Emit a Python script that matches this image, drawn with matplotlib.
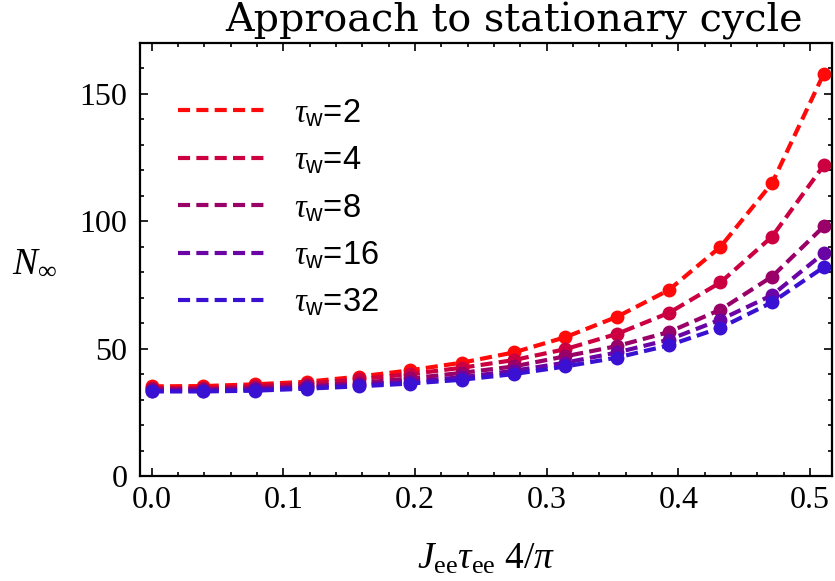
import numpy as np
import matplotlib
matplotlib.use("Agg")
import matplotlib.pyplot as plt
from matplotlib.lines import Line2D
from matplotlib.ticker import MultipleLocator

plt.rcParams['mathtext.fontset'] = 'custom'
plt.rcParams['mathtext.rm'] = 'Liberation Serif'
plt.rcParams['mathtext.it'] = 'Liberation Serif:italic'
plt.rcParams['mathtext.sf'] = 'Liberation Sans'
plt.rcParams['font.family'] = ['Liberation Serif', 'DejaVu Serif']

# x values: J_ee tau_ee 4/pi
x_vals = [0.0, 0.0393, 0.0785, 0.1178, 0.1571, 0.1963, 0.2356, 0.2749,
          0.3142, 0.3534, 0.3927, 0.4320, 0.4712, 0.5105]

tau_w = [2, 4, 8, 16, 32]
n_tau2 = [35.2, 35.3, 36.0, 37.0, 39.0, 41.5, 44.5, 48.5, 54.5, 62.5, 73.0, 90.0, 115.0, 158.0]
n_tau4 = [34.5, 34.5, 35.3, 36.2, 38.0, 40.0, 42.5, 45.5, 49.8, 55.8, 64.0, 76.0, 94.0, 122.0]
n_tau8 = [34.0, 34.0, 34.5, 35.3, 36.5, 38.3, 40.5, 43.0, 47.0, 51.0, 56.5, 65.3, 78.3, 98.0]
n_tau16 = [33.5, 33.5, 34.0, 34.8, 35.8, 37.0, 38.8, 41.3, 44.5, 48.5, 53.5, 61.4, 71.0, 87.5]
n_tau32 = [33.2, 33.2, 33.5, 34.3, 35.2, 36.3, 37.8, 40.0, 43.0, 46.5, 51.3, 58.2, 68.2, 82.0]
series = [n_tau2, n_tau4, n_tau8, n_tau16, n_tau32]
colors = ['#FF0A0A', '#CC0040', '#990068', '#6A04A4', '#3A10D2']

fig = plt.figure(figsize=(8.35, 5.81), dpi=100)
ax = fig.add_axes([140/835, 1-476/581, 692/835, 433/581])

lw = 3.0
dash = (2.9, 1.5)
for ys, c in zip(series, colors):
    ax.plot(x_vals, ys, color=c, lw=lw, dashes=dash, dash_capstyle='butt')
    ax.plot(x_vals, ys, 'o', color=c, ms=10, mec='none')

ax.set_xlim(-0.0089, 0.5167)
ax.set_ylim(0, 170)
ax.xaxis.set_minor_locator(MultipleLocator(0.02))
ax.yaxis.set_major_locator(MultipleLocator(50))
ax.yaxis.set_minor_locator(MultipleLocator(10))
ax.set_xticks([0, 0.1, 0.2, 0.3, 0.4, 0.5])
ax.set_xticklabels(['0.0', '0.1', '0.2', '0.3', '0.4', '0.5'])
ax.tick_params(which='both', direction='in', top=True, right=True, labelsize=23, width=1.2)
ax.tick_params(which='major', length=5.5)
ax.tick_params(which='minor', length=3.2)
ax.tick_params(axis='y', pad=9)
ax.tick_params(axis='x', pad=7)
for s in ax.spines.values():
    s.set_linewidth(1.6)

ax.set_xlabel(r'$J_{\rm ee}\tau_{\rm ee}\ 4/\pi$', fontsize=27)
ax.xaxis.set_label_coords(0.5, (476-559)/433)
ax.xaxis.label.set_va('center')
ax.set_ylabel(r'$N_\infty$', fontsize=27, rotation=0, ha='center', va='center')
ax.yaxis.set_label_coords((35-140)/692, (476-262)/433)

fig.text(514/835, 1-21/581, 'Approach to stationary cycle', fontsize=28.5,
         family='DejaVu Serif', ha='center', va='center')

handles = [Line2D([], [], color=c, lw=lw, dashes=dash, dash_capstyle='butt') for c in colors]
labels = [r'$\tau_\mathsf{w}$=%d' % t for t in tau_w]
leg = ax.legend(handles, labels, loc='upper left',
                bbox_to_anchor=((178-140)/692, (476-97)/433),
                frameon=False, prop={'family': 'Liberation Sans', 'size': 23.5},
                handlelength=2.75, handletextpad=0.8, labelspacing=0.48,
                borderpad=0, borderaxespad=0)

fig.savefig('out.png', dpi=100)
